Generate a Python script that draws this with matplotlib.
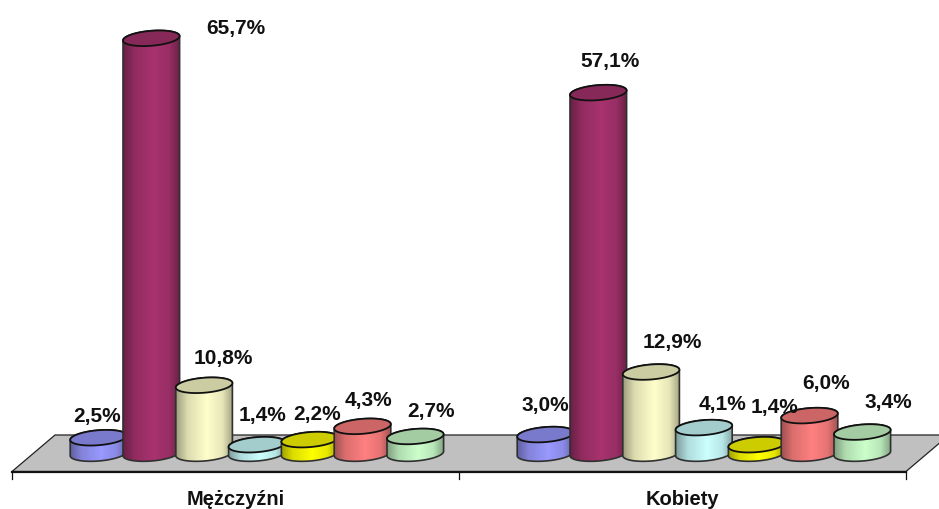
import numpy as np
import matplotlib
matplotlib.use("Agg")
import matplotlib.pyplot as plt
from matplotlib.patches import Polygon
from matplotlib.colors import LinearSegmentedColormap, to_rgb

plt.rcParams['font.family'] = ['Liberation Sans', 'DejaVu Sans']

groups = ["Mężczyźni", "Kobiety"]
men = [2.5, 65.7, 10.8, 1.4, 2.2, 4.3, 2.7]
women = [3.0, 57.1, 12.9, 4.1, 1.4, 6.0, 3.4]
series = [men, women]
colors = ["#9999FF", "#A8336F", "#FFFFCC", "#CCFFFF", "#FFFF00", "#FF8080", "#CCFFCC"]

# label offsets from the top centre of each cylinder, in pixels
label_dx = [[-1, 85, 19, 6, 7, 6, 16], [0, 12, 21, 19, 18, 17, 26]]
label_dy = [[22, 11, 28, 30, 26, 27, 26], [30, 32, 30, 24, 38, 33, 31]]

W, H = 939, 510
fig = plt.figure(figsize=(W / 100, H / 100), dpi=100)
ax = fig.add_axes([0, 0, 1, 1])

# scales: one category = 447 px, one percent = 6.32 px
PX_X = 447.0
PX_Y = 6.32
X0, Y0 = 12, 454.5        # pixel of x=0 and of value 0
ax.set_xlim(-X0 / PX_X, (W - X0) / PX_X)
ax.set_ylim((Y0 - H) / PX_Y, Y0 / PX_Y)
ax.axis("off")

STEP = 52.8 / PX_X
A = 28.3 / PX_X           # half width
B = 7.5 / PX_Y            # ellipse half height
K = 2.2 / PX_Y            # ellipse tilt
FIRST = (98.5 - X0) / PX_X  # first bar centre inside a category

# floor
front, back = -18 / PX_Y, 18.5 / PX_Y
depth = 43 / PX_X
n = len(groups)
ax.add_patch(Polygon([(0, front), (n, front), (n + depth, back), (depth, back)],
                     closed=True, fc="#C0C0C0", ec="#222222", lw=0.9, zorder=1))
ax.plot([0, n], [front, front], color="#111111", lw=1.6, zorder=1.5)
for i in range(n + 1):
    ax.plot([i, i], [front, front - 7 / PX_Y], color="#111111", lw=0.9, zorder=1.5)

t = np.linspace(0, 2 * np.pi, 121)
grad = np.linspace(0, 1, 128)


def shade(color):
    c = np.array(to_rgb(color))
    return LinearSegmentedColormap.from_list(
        "s", [(0, c * 0.62), (0.2, c * 0.86), (0.55, c), (0.82, c * 0.9), (1, c * 0.64)])


def cylinder(cx, value, color, z):
    ex = cx + A * np.cos(t)
    top = value + B * np.sin(t) + K * np.cos(t)
    bot = B * np.sin(t) + K * np.cos(t)
    lower = (t >= np.pi)
    body_x = np.r_[ex[lower], ex[t <= np.pi]]
    body_y = np.r_[bot[lower], top[t <= np.pi]]
    body = np.c_[body_x, body_y]
    poly = Polygon(body, closed=True, fc="none", ec="#303030", lw=1.2, zorder=z + 0.2)
    clip = Polygon(body, closed=True, transform=ax.transData)
    ylo, yhi = -B - K, value + B + K
    im = ax.imshow(grad[None, :], extent=[cx - A, cx + A, ylo, yhi], aspect="auto",
                   cmap=shade(color), zorder=z, interpolation="bilinear")
    im.set_clip_path(clip)
    ax.add_patch(poly)
    cap = np.array(to_rgb(color)) * 0.8
    ax.fill(ex, top, fc=cap, ec="#111111", lw=1.3, zorder=z + 0.3)


for g, vals in enumerate(series):
    for i, v in enumerate(vals):
        cx = g + FIRST + i * STEP
        cylinder(cx, v, colors[i], 2 + i + g * 10)
        ax.annotate(f"{v:.1f}%".replace(".", ","), xy=(cx, v),
                    xytext=(label_dx[g][i], label_dy[g][i]), textcoords="offset pixels",
                    ha="center", va="center", fontsize=15, fontweight="bold",
                    color="#111111", zorder=40)
    ax.text(g + 0.5, (Y0 - 499.5) / PX_Y, groups[g], ha="center", va="center",
            fontsize=14.5, fontweight="bold", color="#111111", zorder=40)

ax.set_xlim(-X0 / PX_X, (W - X0) / PX_X)
ax.set_ylim((Y0 - H) / PX_Y, Y0 / PX_Y)
fig.savefig("out.png", dpi=100, facecolor="white")
